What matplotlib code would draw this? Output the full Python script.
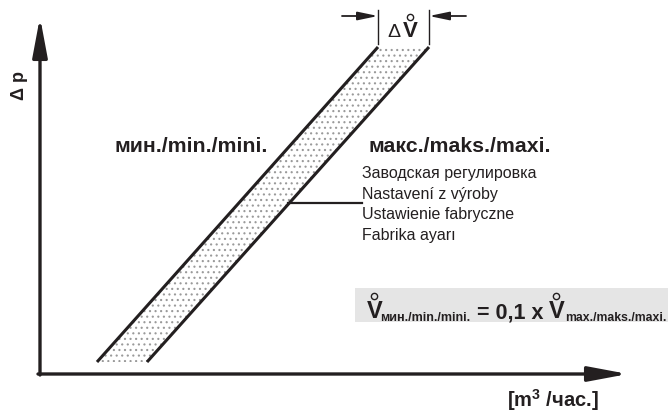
import matplotlib
matplotlib.use('agg')
import matplotlib.pyplot as plt

plt.rcParams['font.family'] = ['Liberation Sans', 'DejaVu Sans']
plt.rcParams['mathtext.default'] = 'regular'

INK = '#231f20'

# band (min / max curves), in picture pixels
band_y = [362, 47]
min_x = [97, 378]
max_x = [147, 429]

min_label = 'мин./min./mini.'
max_label = 'макс./maks./maxi.'
factory_lines = ['Заводская регулировка', 'Nastavení z výroby',
                 'Ustawienie fabryczne', 'Fabrika ayarı']
y_label = 'Δ p'
x_label = '[m$^{3}$ /час.]'

fig = plt.figure(figsize=(6.68, 4.12), dpi=100)
ax = fig.add_axes([0, 0, 1, 1])
ax.set_xlim(0, 668)
ax.set_ylim(412, 0)
ax.axis('off')

# axes with arrows
arrow = dict(arrowstyle='-|>,head_length=24,head_width=4.5', mutation_scale=1,
             color=INK, lw=2.4, shrinkA=0, shrinkB=0)
ax.annotate('', xy=(40, 17), xytext=(40, 375), arrowprops=arrow)
ax.annotate('', xy=(628, 374), xytext=(38, 374), arrowprops=arrow)

# dotted band
poly_x = [min_x[0], min_x[1], max_x[1], max_x[0]]
poly_y = [band_y[0], band_y[1], band_y[1], band_y[0]]
plt.rcParams['hatch.linewidth'] = 0.8
ax.fill(poly_x, poly_y, facecolor='white', edgecolor='#9a9a9a', hatch='...', lw=0)
ax.plot(min_x, band_y, color=INK, lw=2.2, solid_capstyle='butt')
ax.plot(max_x, band_y, color=INK, lw=2.2, solid_capstyle='butt')

# delta V dimension
ax.plot([min_x[1], min_x[1]], [10, 44], color=INK, lw=1)
ax.plot([max_x[1], max_x[1]], [10, 44], color=INK, lw=1)
small = dict(arrowstyle='-|>,head_length=12,head_width=2.5', mutation_scale=1,
             color=INK, lw=1.3, shrinkA=0, shrinkB=0)
ax.annotate('', xy=(min_x[1], 16), xytext=(342, 16), arrowprops=small)
ax.annotate('', xy=(max_x[1], 16), xytext=(466, 16), arrowprops=small)
ax.text(394, 37, 'Δ', fontsize=14, color=INK, ha='center', va='baseline')
ax.text(410, 37, 'V', fontsize=16, fontweight='bold', color=INK, ha='center', va='baseline')
ax.plot([410], [17], marker='o', ms=4.5, mfc='white', mec=INK, mew=1)

# labels
ax.text(20, 85, y_label, rotation=90, fontsize=13, fontweight='bold', color=INK,
        ha='center', va='center')
ax.text(115, 152, min_label, fontsize=15.3, fontweight='bold', color=INK,
        ha='left', va='baseline')
ax.text(368, 152, max_label, fontsize=15.3, fontweight='bold', color=INK,
        ha='left', va='baseline')
for i, line in enumerate(factory_lines):
    ax.text(362, 178 + i * 20.5, line, fontsize=11.5, color=INK, ha='left', va='baseline')
ax.plot([288, 362], [203, 203], color=INK, lw=1.6)

ax.text(507, 407, x_label, fontsize=14.5, fontweight='bold', color=INK,
        ha='left', va='baseline')

# formula box
ax.fill([355, 668, 668, 355], [288, 288, 322, 322], color='#e5e5e5', lw=0)
ax.text(367, 318, 'V', fontsize=17, fontweight='bold', color=INK, va='baseline')
ax.plot([374], [296], marker='o', ms=4.5, mfc='#e5e5e5', mec=INK, mew=1)
ax.text(380, 321, 'мин./min./mini.', fontsize=9, fontweight='bold', color=INK, va='baseline')
ax.text(477, 318, '= 0,1 x', fontsize=15.5, fontweight='bold', color=INK, va='baseline')
ax.text(549, 318, 'V', fontsize=17, fontweight='bold', color=INK, va='baseline')
ax.plot([556], [296], marker='o', ms=4.5, mfc='#e5e5e5', mec=INK, mew=1)
ax.text(565, 321, 'max./maks./maxi.', fontsize=8.8, fontweight='bold', color=INK, va='baseline')

fig.savefig('out.png', dpi=100)
